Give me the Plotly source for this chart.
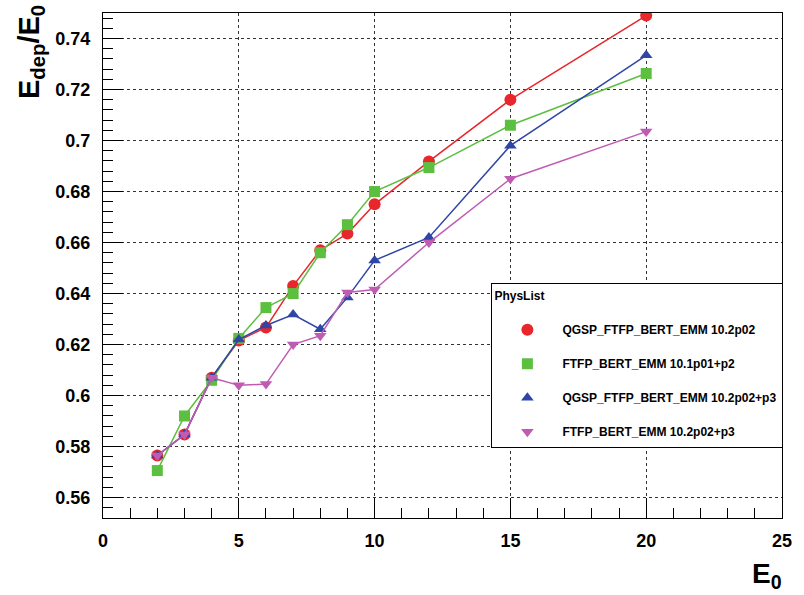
import plotly.graph_objects as go

energies = [2, 3, 4, 5, 6, 7, 8, 9, 10, 12, 15, 20]
names = ["QGSP_FTFP_BERT_EMM 10.2p02", "FTFP_BERT_EMM 10.1p01+p2",
         "QGSP_FTFP_BERT_EMM 10.2p02+p3", "FTFP_BERT_EMM 10.2p02+p3"]
qgsp_102p02 = [0.5765, 0.5847, 0.607, 0.6216, 0.6267, 0.643, 0.657, 0.6635, 0.675, 0.6918, 0.716, 0.749]
ftfp_101p01 = [0.5706, 0.592, 0.606, 0.6224, 0.6345, 0.640, 0.656, 0.667, 0.680, 0.6894, 0.706, 0.7263]
qgsp_102p02p3 = [0.5765, 0.5847, 0.607, 0.622, 0.6275, 0.6318, 0.626, 0.6385, 0.653, 0.662, 0.698, 0.7334]
ftfp_102p02p3 = [0.5765, 0.5847, 0.607, 0.604, 0.6045, 0.620, 0.6235, 0.6404, 0.6416, 0.660, 0.685, 0.7035]
series = [qgsp_102p02, ftfp_101p01, qgsp_102p02p3, ftfp_102p02p3]
colors = ["#e8262b", "#5cbf3f", "#2f46a6", "#c05bb4"]
symbols = ["circle", "square", "triangle-up", "triangle-down"]
sizes = [12, 11, 11, 11]

font_family = "Liberation Sans, Arial, sans-serif"

fig = go.Figure()
for name, ys, c, s, sz in zip(names, series, colors, symbols, sizes):
    fig.add_trace(go.Scatter(x=energies, y=ys, mode="lines+markers", name=name,
                             line=dict(color=c, width=1.5),
                             marker=dict(color=c, symbol=s, size=sz, line=dict(width=0)),
                             showlegend=False))
for i, (name, c, s, sz) in enumerate(zip(names, colors, symbols, sizes)):
    fig.add_trace(go.Scatter(x=[None], y=[None], mode="markers", name=name,
                             marker=dict(color=c, symbol=s, size=sz, line=dict(width=0)),
                             legendgroup=f"g{i}", showlegend=True))

axis_common = dict(showline=True, linecolor="black", linewidth=1, mirror=True,
                   ticks="inside", ticklen=20, tickcolor="black",
                   showgrid=True, gridcolor="#333", griddash="dot", gridwidth=1,
                   zeroline=False,
                   tickfont=dict(family=font_family, size=18, color="black", weight="bold"))

fig.update_layout(
    width=804, height=595,
    margin=dict(l=103, r=13, t=13, b=77),
    paper_bgcolor="white", plot_bgcolor="white",
    xaxis=dict(range=[0, 25], dtick=5, tick0=0,
               minor=dict(dtick=1, ticks="inside", ticklen=10, tickcolor="black", showgrid=False),
               ticklabelstandoff=6, **axis_common),
    yaxis=dict(range=[0.552, 0.750], dtick=0.02, tick0=0.56,
               minor=dict(dtick=0.004, ticks="inside", ticklen=10, tickcolor="black", showgrid=False),
               ticklabelstandoff=8, **axis_common),
    legend=dict(x=0.572, y=0.4653, xanchor="left", yanchor="top",
                bgcolor="white", bordercolor="black", borderwidth=1,
                font=dict(family=font_family, size=12, color="black", weight="bold"),
                title=dict(text="PhysList<br> ", side="top",
                           font=dict(family=font_family, size=12, color="black", weight="bold")),
                traceorder="grouped", tracegroupgap=15, itemwidth=60),
    annotations=[
        dict(text="E<sub>dep</sub>/E<sub>0</sub>", xref="paper", yref="paper",
             x=0, y=1, xanchor="center", yanchor="top", xshift=-72, yshift=10,
             textangle=-90, showarrow=False,
             font=dict(family=font_family, size=29, color="black", weight="bold")),
        dict(text="E<sub>0</sub>", xref="paper", yref="paper",
             x=1, y=0, xanchor="right", yanchor="top", yshift=-38, xshift=2,
             showarrow=False,
             font=dict(family=font_family, size=28, color="black", weight="bold")),
    ],
)

fig.write_html("out.html")
